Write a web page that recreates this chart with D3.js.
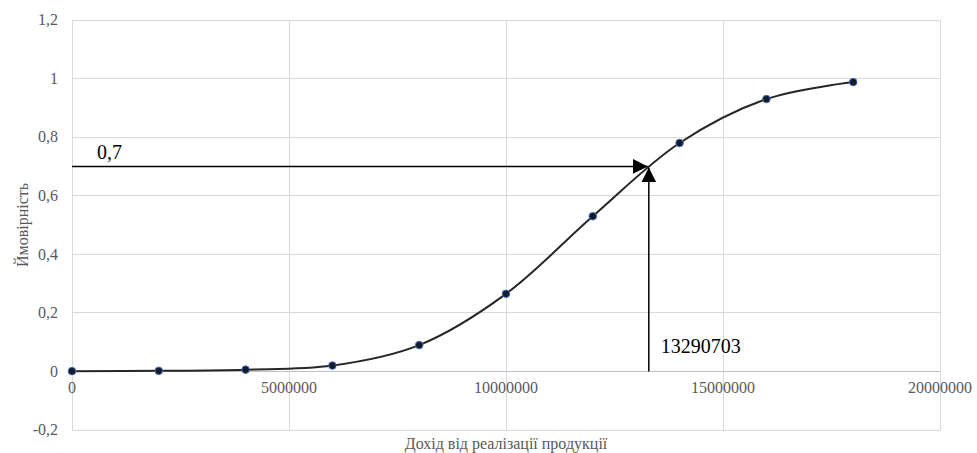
<!DOCTYPE html>
<html><head><meta charset="utf-8">
<script src="https://cdn.jsdelivr.net/npm/d3@7"></script>
<style>body{margin:0;background:#fff}svg{display:block}
text{font-family:"Liberation Serif","DejaVu Serif","Noto Serif",serif}</style>
</head><body>
<svg id="c" width="977" height="453"></svg>
<script>
const xValues = [0, 2000000, 4000000, 6000000, 8000000, 10000000, 12000000, 14000000, 16000000, 18000000];
const yValues = [0.001, 0.002, 0.006, 0.02, 0.09, 0.265, 0.53, 0.78, 0.93, 0.988];
const xTicks = [0, 5000000, 10000000, 15000000, 20000000];
const yTicks = [-0.2, 0, 0.2, 0.4, 0.6, 0.8, 1, 1.2];
const markX = 13290703;
const markY = 0.7;
const xTitle = "Дохід від реалізації продукції";
const yTitle = "Ймовірність";

const svg = d3.select("#c");
const L = 72, R = 940, T = 20, B = 430;
const x = d3.scaleLinear().domain([0, 20000000]).range([L, R]);
const y = d3.scaleLinear().domain([-0.2, 1.2]).range([B, T]);
const fmtY = d => (Math.round(d*10)/10).toString().replace(".", ",");

// gridlines
svg.append("g").selectAll("line").data(yTicks).join("line")
  .attr("x1", L).attr("x2", R).attr("y1", d => y(d)).attr("y2", d => y(d))
  .attr("stroke", d => d === 0 ? "#bfbfbf" : "#d9d9d9").attr("stroke-width", 1)
  .attr("shape-rendering", "crispEdges");
svg.append("g").selectAll("line").data(xTicks).join("line")
  .attr("x1", d => x(d)).attr("x2", d => x(d)).attr("y1", T).attr("y2", B)
  .attr("stroke", "#d9d9d9").attr("stroke-width", 1)
  .attr("shape-rendering", "crispEdges");

// tick labels
svg.append("g").selectAll("text").data(yTicks).join("text")
  .attr("x", 58).attr("y", d => y(d)).attr("dy", "0.33em")
  .attr("text-anchor", "end").attr("font-size", 16)
  .attr("fill", "#595959").text(fmtY);
svg.append("g").selectAll("text").data(xTicks).join("text")
  .attr("x", d => x(d)).attr("y", y(0) + 22)
  .attr("text-anchor", "middle").attr("font-size", 16)
  .attr("fill", "#595959").text(d => String(d));

// axis titles
svg.append("text").attr("x", (L + R) / 2).attr("y", 449)
  .attr("text-anchor", "middle").attr("font-size", 16)
  .attr("fill", "#595959").text(xTitle);
svg.append("text").attr("transform", `translate(28,${(T + B) / 2}) rotate(-90)`)
  .attr("text-anchor", "middle").attr("font-size", 16)
  .attr("fill", "#595959").text(yTitle);

// curve
const pts = xValues.map((v, i) => [v, yValues[i]]);
const line = d3.line().x(d => x(d[0])).y(d => y(d[1])).curve(d3.curveCatmullRom.alpha(0.5));
svg.append("path").attr("d", line(pts)).attr("fill", "none")
  .attr("stroke", "#262626").attr("stroke-width", 2);

// markers
svg.append("g").selectAll("circle").data(pts).join("circle")
  .attr("cx", d => x(d[0])).attr("cy", d => y(d[1])).attr("r", 3.8)
  .attr("fill", "#161b29").attr("stroke", "#4472c4").attr("stroke-width", 1);

// arrows
const defs = svg.append("defs");
defs.append("marker").attr("id", "ah").attr("viewBox", "0 0 10 10")
  .attr("refX", 10).attr("refY", 5).attr("markerWidth", 10).attr("markerHeight", 10)
  .attr("markerUnits", "strokeWidth").attr("orient", "auto")
  .append("path").attr("d", "M0,0 L10,5 L0,10 Z").attr("fill", "#000");
const px = x(markX), py = y(markY);
svg.append("line").attr("x1", L).attr("y1", py).attr("x2", px - 1).attr("y2", py)
  .attr("stroke", "#000").attr("stroke-width", 1.5).attr("marker-end", "url(#ah)");
svg.append("line").attr("x1", px).attr("y1", y(0)).attr("x2", px).attr("y2", py + 1)
  .attr("stroke", "#000").attr("stroke-width", 1.5).attr("marker-end", "url(#ah)");

// annotations
svg.append("text").attr("x", 97).attr("y", py - 7)
  .attr("font-size", 20).attr("fill", "#000").text(fmtY(markY));
svg.append("text").attr("x", px + 12).attr("y", y(0) - 18)
  .attr("font-size", 20).attr("fill", "#000").text(String(markX));
</script>
</body></html>
